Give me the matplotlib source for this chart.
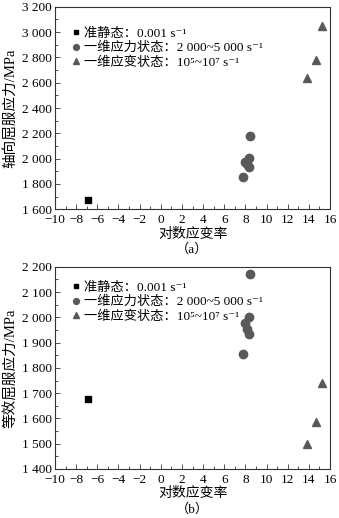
import matplotlib
matplotlib.use("Agg")
import matplotlib.pyplot as plt
from matplotlib.ticker import MultipleLocator, FuncFormatter

plt.rcParams['font.family'] = ['Liberation Serif', 'Noto Sans CJK SC', 'DejaVu Serif']
plt.rcParams['axes.unicode_minus'] = True

# ---- data ----
qs_x = [-6.91]
qs_axial = [1672]
qs_equiv = [1675]

sp_x = [8.40, 8.35, 7.98, 8.13, 8.32, 7.82]
sp_axial = [2175, 2002, 1977, 1954, 1933, 1856]
sp_equiv = [2171, 2002, 1977, 1954, 1933, 1855]

st_x = [13.85, 14.68, 15.28]
st_axial = [2635, 2782, 3050]
st_equiv = [1500, 1585, 1742]

labels = ['准静态：0.001 s\u207b\u00b9',
          '一维应力状态：2 000~5 000 s\u207b\u00b9',
          '一维应变状态：10\u2075~10\u2077 s\u207b\u00b9']
xlabel = '对数应变率'
ylabels = ['轴向屈服应力/MPa', '等效屈服应力/MPa']
captions = ['（a）', '（b）']

gray = '#595959'

fig = plt.figure(figsize=(3.39, 5.18), dpi=100)
ax1 = fig.add_axes([0.1622, 0.596, 0.8113, 0.391])
ax2 = fig.add_axes([0.1622, 0.0946, 0.8113, 0.3905])


def fmt_thousands(v, pos):
    v = int(round(v))
    return f"{v:,}".replace(',', ' ')


def fmt_x(v, pos):
    v = int(round(v))
    return f"{v}".replace('-', '\u2212')


for ax, ys, ylo, yhi, ymaj, ymin_, ylab, cap, anchor in [
        (ax1, (qs_axial, sp_axial, st_axial), 1600, 3200, 200, 100, ylabels[0], captions[0], 0.955),
        (ax2, (qs_equiv, sp_equiv, st_equiv), 1400, 2200, 100, 50, ylabels[1], captions[1], 0.985)]:
    ax.plot(qs_x, ys[0], ls='none', marker='s', ms=5, color='black', label=labels[0])
    ax.plot(sp_x, ys[1], ls='none', marker='o', ms=6, color=gray, label=labels[1])
    ax.plot(st_x, ys[2], ls='none', marker='^', ms=6, color=gray, label=labels[2])
    ax.set_xlim(-10, 16)
    ax.set_ylim(ylo, yhi)
    ax.xaxis.set_major_locator(MultipleLocator(2))
    ax.xaxis.set_minor_locator(MultipleLocator(1))
    ax.yaxis.set_major_locator(MultipleLocator(ymaj))
    ax.yaxis.set_minor_locator(MultipleLocator(ymin_))
    ax.yaxis.set_major_formatter(FuncFormatter(fmt_thousands))
    ax.xaxis.set_major_formatter(FuncFormatter(fmt_x))
    ax.tick_params(which='both', direction='in', top=False, right=False,
                   labelsize=9.5, color='#333333')
    ax.tick_params(axis='x', pad=3.5)
    ax.tick_params(axis='y', pad=2.5)
    ax.tick_params(which='major', length=3.5, width=0.6)
    ax.tick_params(which='minor', length=2, width=0.6)
    for sp in ax.spines.values():
        sp.set_linewidth(0.8)
        sp.set_color('#333333')
    ax.set_xlabel(xlabel, fontsize=10, labelpad=1)
    ax.set_ylabel(ylab, fontsize=10.5, labelpad=3)
    ax.legend(loc='upper left', frameon=False, fontsize=9.5,
              handlelength=0.6, handletextpad=0.3, labelspacing=0.15,
              borderaxespad=0.5, markerscale=0.7,
              bbox_to_anchor=(0.02, anchor))
    ax.text(0.5, -0.20, cap, transform=ax.transAxes, ha='center', va='center',
            fontsize=9.5)

fig.savefig('out.png', dpi=100)
